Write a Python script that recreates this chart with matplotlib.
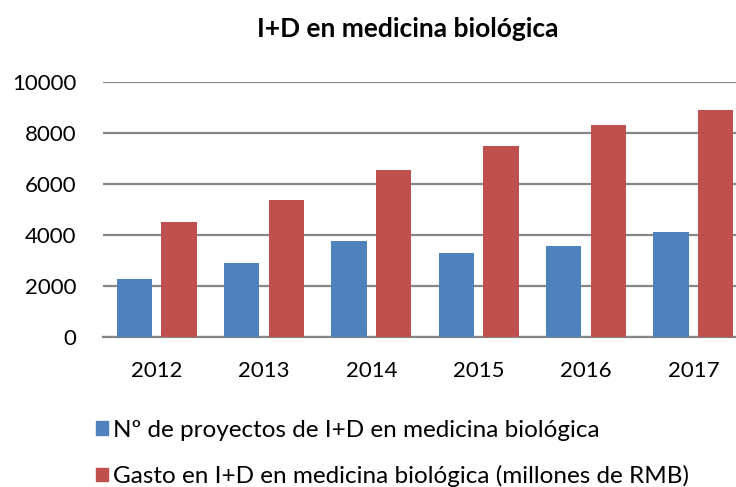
import matplotlib.pyplot as plt
import matplotlib.patches as mpatches
import numpy as np

plt.rcParams['font.family'] = ['Lato', 'DejaVu Sans']

years = ['2012', '2013', '2014', '2015', '2016', '2017']
proyectos = [2290, 2900, 3760, 3280, 3550, 4120]
gasto = [4500, 5360, 6530, 7480, 8310, 8910]
labels = ['Nº de proyectos de I+D en medicina biológica',
          'Gasto en I+D en medicina biológica (millones de RMB)']
colors = ['#4F81BD', '#C0504D']

fig = plt.figure(figsize=(7.36, 4.87), dpi=100)
# axes run slightly past the right edge, as in the original (clipped) chart
ax = fig.add_axes([103 / 736, 1 - 337 / 487, 644 / 736, 255 / 487])

x = np.arange(len(years))
w = 0.33
ax.bar(x - 0.208, proyectos, w, color=colors[0], zorder=3)
ax.bar(x + 0.208, gasto, w, color=colors[1], zorder=3)

ax.set_xlim(-0.5, len(years) - 0.5)
ax.set_ylim(0, 10000)
ax.set_yticks(np.arange(0, 10001, 2000))
ax.set_xticks(x)
ax.set_xticklabels(years)
ax.yaxis.grid(True, color='#868686', linewidth=1.6, zorder=0)
ax.tick_params(axis='both', length=0, labelsize=16)
ax.tick_params(axis='y', pad=19)
ax.tick_params(axis='x', pad=17)

for s in ['top', 'right', 'left']:
    ax.spines[s].set_visible(False)
ax.spines['bottom'].set_color('#868686')
ax.spines['bottom'].set_linewidth(1.6)

fig.text(408 / 736, 1 - 29 / 487, 'I+D en medicina biológica',
         ha='center', va='center', fontsize=19, fontweight='bold')

handles = [mpatches.Patch(color=c) for c in colors]
fig.legend(handles, labels, loc='upper left', bbox_to_anchor=(86 / 736, 1 - 410 / 487),
           frameon=False, fontsize=17.5, handlelength=0.5, handleheight=0.5,
           handletextpad=0.2, labelspacing=1.0, borderaxespad=0)

fig.savefig('out.png', dpi=100)
